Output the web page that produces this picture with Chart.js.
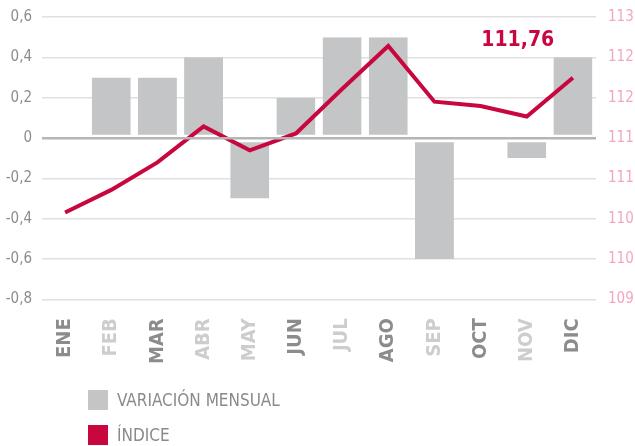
<!DOCTYPE html>
<html lang="es">
<head>
  <meta charset="UTF-8">
  <title>Variación mensual e índice</title>
  <script src="https://cdn.jsdelivr.net/npm/chart.js"></script>
  <style>
    body { margin: 0; background: #fff; }
    #wrap { position: relative; width: 635px; height: 446px; }
    #legend {
      position: absolute; left: 88px; top: 390px;
      font-family: 'Liberation Sans Narrow', 'DejaVu Sans Condensed', Roboto, sans-serif;
      font-size: 17px; color: #8a8a8a;
    }
    .item { display: flex; align-items: center; height: 20px; margin-bottom: 15px; }
    .box { width: 20px; height: 20px; margin-right: 9px; }
  </style>
</head>
<body>
<div id="wrap">
  <canvas id="chart" width="635" height="446"></canvas>
  <div id="legend">
    <div class="item"><div class="box" style="background:#c4c5c7"></div>VARIACIÓN MENSUAL</div>
    <div class="item"><div class="box" style="background:#c8073f"></div>ÍNDICE</div>
  </div>
</div>

<script>
  const months = ['ENE', 'FEB', 'MAR', 'ABR', 'MAY', 'JUN', 'JUL', 'AGO', 'SEP', 'OCT', 'NOV', 'DIC'];
  const monthColors = ['#8c8c8c', '#cdcdcd', '#8c8c8c', '#cdcdcd', '#cdcdcd', '#8c8c8c',
                       '#cdcdcd', '#8c8c8c', '#cdcdcd', '#8c8c8c', '#cdcdcd', '#8c8c8c'];
  // variación mensual (eje izquierdo)
  const variacion = [0, 0.3, 0.3, 0.4, -0.3, 0.2, 0.5, 0.5, -0.6, 0, -0.1, 0.4];
  // índice (eje derecho)
  const indice = [110.23, 110.55, 110.94, 111.45, 111.11, 111.35, 111.98, 112.59, 111.80, 111.74, 111.59, 112.14];
  const leftTicks = [0.6, 0.4, 0.2, 0, -0.2, -0.4, -0.6, -0.8];
  const rightMin = 109, rightMax = 113;
  const lastLabel = '111,76';

  const gray = '#c4c5c7';
  const red = '#c8073f';
  const fontFam = "'Liberation Sans Narrow', 'DejaVu Sans Condensed', Roboto, sans-serif";

  const labelPlugin = {
    id: 'lastLabel',
    afterDatasetsDraw(chart) {
      const x = chart.scales.x.getPixelForValue(10) - 9;
      const y = chart.scales.y1.getPixelForValue(112.66);
      const ctx = chart.ctx;
      ctx.save();
      ctx.font = "bold 21px " + fontFam;
      ctx.fillStyle = red;
      ctx.textAlign = 'center';
      ctx.textBaseline = 'middle';
      ctx.fillText(lastLabel, x, y);
      ctx.restore();
    }
  };

  const noPad = axis => { axis.paddingTop = 0; axis.paddingBottom = 0; };

  new Chart(document.getElementById('chart'), {
    data: {
      labels: months,
      datasets: [
        {
          type: 'line',
          label: 'ÍNDICE',
          data: indice,
          yAxisID: 'y1',
          borderColor: red,
          borderWidth: 4,
          pointRadius: 0,
          tension: 0,
          order: 0
        },
        {
          type: 'bar',
          label: 'VARIACIÓN MENSUAL',
          data: variacion,
          yAxisID: 'y',
          backgroundColor: gray,
          borderColor: '#ffffff',
          borderSkipped: false,
          borderWidth: ctx => (ctx.raw >= 0 ? { bottom: 2 } : { top: 3 }),
          categoryPercentage: 1,
          barPercentage: 0.845,
          order: 1
        }
      ]
    },
    options: {
      responsive: false,
      animation: false,
      layout: { autoPadding: false, padding: { left: 0, right: 0, top: 17, bottom: 71 } },
      plugins: {
        legend: { display: false },
        tooltip: { enabled: false }
      },
      scales: {
        x: {
          offset: true,
          grid: { display: false },
          border: { display: false },
          ticks: {
            minRotation: 90,
            maxRotation: 90,
            padding: 11,
            color: ctx => monthColors[ctx.index],
            font: { family: fontFam, size: 20, weight: 'bold' }
          }
        },
        y: {
          position: 'left',
          min: -0.8,
          max: 0.6,
          afterBuildTicks: axis => { axis.ticks = leftTicks.map(v => ({ value: v })); },
          afterFit: axis => { axis.width = 42; noPad(axis); },
          border: { display: false },
          grid: {
            z: 1,
            drawTicks: false,
            color: ctx => (ctx.tick && ctx.tick.value === 0 ? '#b5b5b5' : 'rgba(0,0,0,0)'),
            lineWidth: ctx => (ctx.tick && ctx.tick.value === 0 ? 2.5 : 0)
          },
          ticks: {
            padding: 10,
            color: '#8c8c8c',
            font: { family: fontFam, size: 15 },
            callback: v => (v === 0 ? '0' : v.toFixed(1).replace('.', ','))
          }
        },
        y1: {
          position: 'right',
          min: rightMin,
          max: rightMax,
          afterFit: axis => { axis.width = 39; noPad(axis); },
          border: { display: false },
          grid: { drawTicks: false, color: '#e0e0e0', lineWidth: 1.5 },
          ticks: {
            count: 8,
            padding: 12,
            color: '#f2a7c0',
            font: { family: fontFam, size: 15 },
            callback: v => String(Math.round(v))
          }
        }
      }
    },
    plugins: [labelPlugin]
  });
</script>
</body>
</html>
